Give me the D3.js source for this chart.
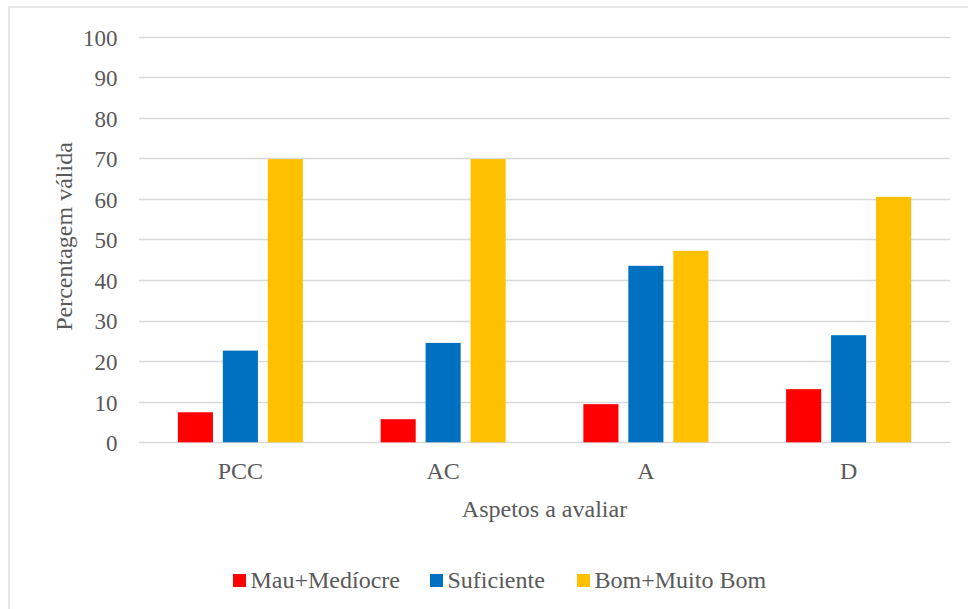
<!DOCTYPE html>
<html>
<head>
<meta charset="utf-8">
<script src="https://cdn.jsdelivr.net/npm/d3@7"></script>
<style>
  html, body { margin: 0; padding: 0; background: #fff; }
  svg { display: block; }
</style>
</head>
<body>
<svg id="chart" width="968" height="609"></svg>
<script>
// Categories (aspects evaluated) and series values (valid percentage)
const categories = ["PCC", "AC", "A", "D"];
const seriesNames = ["Mau+Medíocre", "Suficiente", "Bom+Muito Bom"];
const mauMediocre = [7.4, 5.7, 9.4, 13.1];
const suficiente = [22.6, 24.5, 43.5, 26.4];
const bomMuitoBom = [69.8, 69.8, 47.2, 60.5];
const yTicks = [0, 10, 20, 30, 40, 50, 60, 70, 80, 90, 100];
const colors = ["#FF0000", "#0070C0", "#FFC000"];

const FONT = "'Liberation Serif'";
const TEXT_COLOR = "#595959";

const seriesValues = [mauMediocre, suficiente, bomMuitoBom];
const data = categories.map((c, i) => ({
  category: c,
  values: seriesNames.map((s, j) => ({ series: s, value: seriesValues[j][i] }))
}));

const svg = d3.select("#chart");

// outer chart frame (runs off the right and bottom edges)
svg.append("rect")
  .attr("x", 9).attr("y", 7)
  .attr("width", 980).attr("height", 620)
  .attr("fill", "none").attr("stroke", "#D9D9D9").attr("stroke-width", 1.3);

const plot = { left: 139, right: 950, top: 36.6, bottom: 442.3 };

const x = d3.scaleBand().domain(categories)
  .range([plot.left, plot.right]).paddingInner(0).paddingOuter(0);
const groupWidth = 125;
const xInner = d3.scaleBand().domain(seriesNames)
  .range([0, groupWidth]).paddingInner(0.22).paddingOuter(0);
const y = d3.scaleLinear().domain([0, 100]).range([plot.bottom, plot.top]);

function styleText(sel, size) {
  sel.attr("font-family", null)
    .style("font-family", FONT)
    .style("font-size", size + "px")
    .style("fill", TEXT_COLOR);
}

// gridlines
svg.append("g")
  .selectAll("line").data(yTicks).join("line")
  .attr("x1", plot.left).attr("x2", plot.right)
  .attr("y1", d => Math.round(y(d)) + 0.5).attr("y2", d => Math.round(y(d)) + 0.5)
  .attr("stroke", "#D9D9D9").attr("stroke-width", 1.3);

// y axis labels
const yAxis = d3.axisLeft(y).tickValues(yTicks).tickSize(0).tickPadding(0);
const yg = svg.append("g").attr("transform", `translate(117.5,0)`).call(yAxis);
yg.attr("font-family", null).attr("font-size", null);
yg.select(".domain").remove();
yg.selectAll("text").attr("dy", null).attr("y", 8.4).call(styleText, 23);

// bars
const groups = svg.append("g").selectAll("g").data(data).join("g")
  .attr("transform", d => `translate(${x(d.category) + (x.bandwidth() - groupWidth) / 2},0)`);
groups.selectAll("rect").data(d => d.values).join("rect")
  .attr("x", d => xInner(d.series))
  .attr("width", xInner.bandwidth())
  .attr("y", d => y(d.value))
  .attr("height", d => y(0) - y(d.value))
  .attr("fill", (d, i) => colors[i]);

// x axis labels
const xAxis = d3.axisBottom(x).tickSize(0).tickPadding(0);
const xg = svg.append("g").attr("transform", `translate(0,479)`).call(xAxis);
xg.attr("font-family", null).attr("font-size", null);
xg.select(".domain").remove();
xg.selectAll("text").attr("dy", null).attr("y", 0).call(styleText, 24);

// axis titles
svg.append("text")
  .attr("x", (plot.left + plot.right) / 2).attr("y", 516.7)
  .attr("text-anchor", "middle")
  .text("Aspetos a avaliar").call(styleText, 24);
svg.append("text")
  .attr("transform", `translate(72,236.5) rotate(-90)`)
  .attr("text-anchor", "middle")
  .text("Percentagem válida").call(styleText, 24);

// legend
const legendX = [233, 430, 577];
const legend = svg.append("g").selectAll("g").data(seriesNames).join("g")
  .attr("transform", (d, i) => `translate(${legendX[i]},574)`);
legend.append("rect")
  .attr("width", 13).attr("height", 13)
  .attr("fill", (d, i) => colors[i]);
legend.append("text")
  .attr("x", 17.5).attr("y", 14)
  .text(d => d).call(styleText, 24);
</script>
</body>
</html>
